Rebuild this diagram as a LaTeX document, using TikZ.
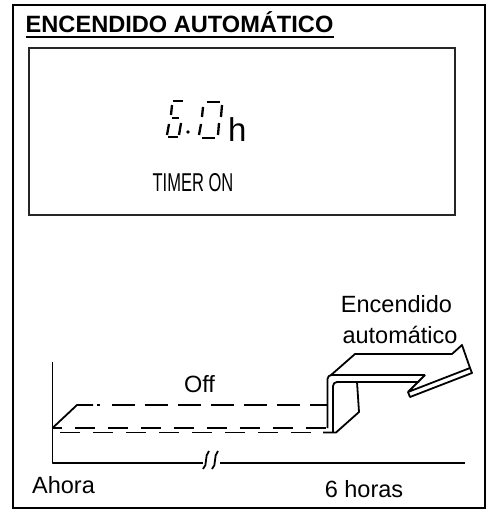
\documentclass[tikz,border=0pt]{standalone}
\usepackage{fontspec}
\setmainfont{Liberation Sans}
\usepackage{graphicx}
\usetikzlibrary{positioning}

\begin{document}
\begin{tikzpicture}[x=1pt, y=-1pt,
      frame/.style={draw, line width=2.2pt},
      lbl/.style={inner sep=0pt, anchor=base,
                  font=\fontsize{23.5}{28}\selectfont},
      seg/.style={line width=2.3pt},
      edge/.style={line width=1.8pt, line join=round},
      dsh/.style={edge, dash pattern=on 20pt off 13pt}
  ]
    \useasboundingbox (0,0) rectangle (487,518);
    \draw[frame] (13,5) rectangle (485,508);
    % title
    \node[inner sep=0pt, anchor=base west,
          font=\fontsize{23.6}{28}\selectfont\bfseries] (title) at (25.5,33) {ENCENDIDO AUTOMÁTICO};
    \draw[line width=1.8pt] ([yshift=-4pt]title.base west) -- ([yshift=-4pt]title.base east);
    % display
    \draw[frame, draw=black!85] (29,48) rectangle (455,215);
    \foreach \xa/\ya/\xb/\yb in {173/101/183/101, 172/105/171/115, 172/118/179/118,
        169/124/167/135, 168/137/178/137, 181/123/179/135,
        207/102/220/102, 203/107/202/117, 222/105/221/117,
        201/124/199/135, 219/123/218/135, 202/138/215/138}
      \draw[seg] (\xa,\ya) -- (\xb,\yb);
    \fill (188,132) circle (1.9);
    \node[inner sep=0pt, anchor=base west, font=\fontsize{33}{36}\selectfont] (unit) at (228,142) {h};
    \node[lbl, font=\fontsize{25.8}{28}\selectfont] (timer) at (193,192) {\scalebox{0.64}[1]{TIMER ON}};
    % axes
    \coordinate (o) at (52.5,463);
    \draw[edge] (52.5,362) -- (o) -- (203,463);
    \draw[edge] (220,463) -- (465,463);
    \draw[edge] (203,469) .. controls (208,465) and (204,456) .. (209,451);
    \draw[edge] (212,469) .. controls (217,465) and (213,456) .. (218,451);
    % off ribbon
    \draw[edge] (52.5,428) -- (77,405) -- (93,405);
    \draw[edge] (97,405) -- (100,405);
    \draw[edge, dash pattern=on 23pt off 10pt] (112,405) -- (327.5,405);
    \draw[dsh, dash phase=11pt] (52.5,428) -- (327.5,428);
    \draw[dsh] (60,432.5) -- (323,432.5);
    \draw[edge] (323,432.5) -- (336,432.5) -- (359,412) -- (357,382);
    % step up
    \draw[edge, rounded corners=4pt] (327.5,428) -- (327.5,375) -- (425,375);
    \draw[edge, rounded corners=4pt] (333,432.5) -- (333,382) -- (419,382);
    \draw[edge] (330.5,375.5) -- (355,354) -- (452,354) -- (462,345) -- (470,368)
        -- (408,392) -- (425,375);
    \draw[edge] (470,368) -- (472,373) -- (410,397) -- (408,392);
    % labels
    \node[lbl] (on1) at (396.5,312) {Encendido};
    \node[lbl] (on2) at (400,343) {automático};
    \node[lbl] (off) at (199.5,392) {Off};
    \node[lbl] (now) at (63.5,493) {Ahora};
    \node[lbl] (six) at (364,497) {6 horas};
\end{tikzpicture}
\end{document}
